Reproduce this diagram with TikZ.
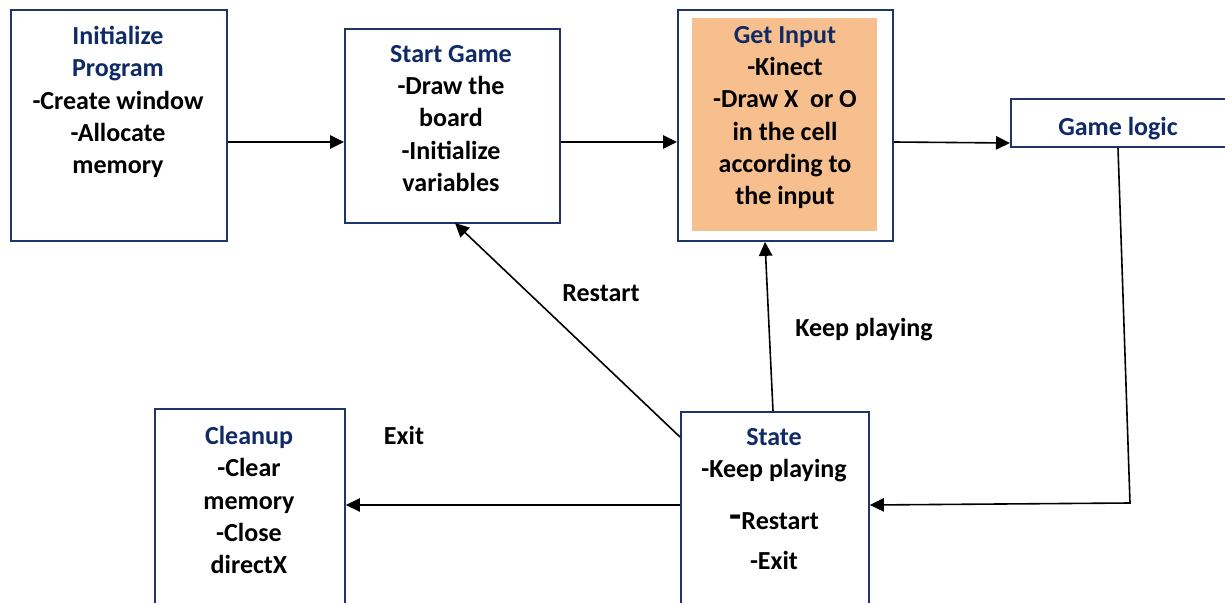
\documentclass[tikz,border=0pt]{standalone}
\usepackage{fontspec}
\setmainfont{Carlito}
\usetikzlibrary{arrows.meta}
\definecolor{navy}{HTML}{1F3468}
\definecolor{ttl}{HTML}{102A66}
\definecolor{orng}{HTML}{F8BF8E}
\begin{document}
\begin{tikzpicture}[x=0.75pt,y=-0.75pt,
  box/.style={draw=navy,line width=1.4pt,fill=white,inner sep=0pt,anchor=north west},
  txt/.style={anchor=north,inner sep=0pt,align=center,font=\bfseries\fontsize{19.5}{24.2}\selectfont},
  lbl/.style={inner sep=0pt,font=\bfseries\fontsize{19.5}{24.2}\selectfont},
  conn/.style={line width=1.2pt,-{Triangle[length=10.5pt,width=10pt]}}]
\useasboundingbox (0,0) rectangle (1225,603);
\clip (0,0) rectangle (1225,603);
% boxes
\node[box,minimum width=216*0.75pt,minimum height=231*0.75pt] (init) at (10,9) {};
\node[box,minimum width=215*0.75pt,minimum height=194*0.75pt] (start) at (344,28) {};
\node[box,minimum width=215*0.75pt,minimum height=231*0.75pt] (input) at (677,9) {};
\node[fill=orng,inner sep=0pt,anchor=north west,minimum width=185*0.75pt,minimum height=213*0.75pt] (inputfill) at (692,18) {};
\node[box,minimum width=230*0.75pt,minimum height=48*0.75pt] (logic) at (1010,98) {};
\node[box,minimum width=188*0.75pt,minimum height=220*0.75pt] (state) at (680,411) {};
\node[box,minimum width=190*0.75pt,minimum height=220*0.75pt] (clean) at (154,408) {};
% texts
\node[txt] (initt) at (118,26) {\textcolor{ttl}{Initialize}\\\textcolor{ttl}{Program}\\-Create window\\-Allocate\\memory};
\node[txt] (startt) at (451,45) {\textcolor{ttl}{Start Game}\\-Draw the\\board\\-Initialize\\variables};
\node[txt] (inputt) at (785,26) {\textcolor{ttl}{Get Input}\\-Kinect\\-Draw X\ \ or O\\in the cell\\according to\\the input};
\node[txt] (logict) at (1118,117) {\textcolor{ttl}{Game logic}};
\node[txt] (statet) at (774,428) {\textcolor{ttl}{State}\\-Keep playing\\[15pt]\raisebox{1pt}{\fontsize{30}{24}\selectfont -}Restart\\[5.5pt]-Exit};
\node[txt] (cleant) at (249,426) {\textcolor{ttl}{Cleanup}\\-Clear\\memory\\-Close\\directX};
% connectors
\coordinate (c1) at (1130,503);
\draw[conn] (init.east |- 0,142) -- (start.west |- 0,142);
\draw[conn] (start.east |- 0,142) -- (input.west |- 0,142);
\draw[conn] (input.east |- 0,142) -- (logic.west |- 0,143);
\draw[conn] (logic.south -| 1118,0) -- (c1) -- (state.east |- 0,505);
\draw[conn] (state.west |- 0,505) -- (clean.east |- 0,505);
\draw[conn] (680,437) -- (455,223);
\draw[conn] (state.north -| 773,0) -- (input.south -| 765,0);
% labels
\node[lbl] (exitl) at (404,435) {Exit};
\node[lbl] (restartl) at (601,293) {Restart};
\node[lbl] (keepl) at (864,330) {Keep playing};
\end{tikzpicture}
\end{document}
